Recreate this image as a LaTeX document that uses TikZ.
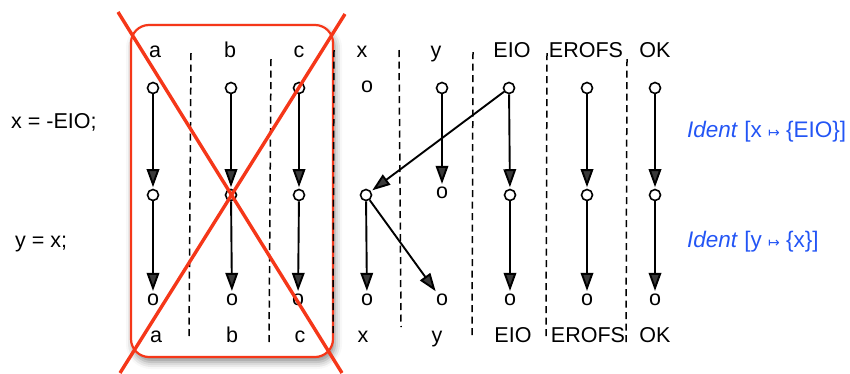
\documentclass[tikz,border=0pt]{standalone}
\usepackage{fontspec}
\setmainfont{Liberation Sans}
\newfontfamily\symfont{DejaVu Sans}
\usetikzlibrary{arrows.meta,shadows.blur}
\definecolor{crossred}{RGB}{245,55,25}
\definecolor{identblue}{RGB}{35,85,245}
\newcommand{\mapsarrow}{{\symfont\fontsize{14}{14}\selectfont ↦}}
\begin{document}
\begin{tikzpicture}[x=1pt,y=-1pt,
  font=\fontsize{21.5}{25}\selectfont,
  loc/.style={circle,draw,line width=1.6pt,inner sep=0pt,minimum size=11pt,fill=white},
  otext/.style={inner sep=1.5pt},
  lbl/.style={anchor=base,inner sep=0pt},
  stmt/.style={anchor=base west,inner sep=0pt},
  ident/.style={anchor=base west,inner sep=0pt,text=identblue,font=\fontsize{22.5}{26}\selectfont},
  flow/.style={-{Triangle[length=18pt,width=12.5pt]},line width=1.9pt,shorten >=1.5pt},
  sep/.style={line width=1.5pt,dash pattern=on 7pt off 4.5pt},
  cross/.style={crossred,line width=3.4pt}]
\useasboundingbox (0,0) rectangle (850,373);

% discarded columns
\draw[crossred,line width=2.2pt,fill=white,rounded corners=18pt,
  blur shadow={shadow xshift=2pt,shadow yshift=-5pt,shadow blur radius=7pt,shadow opacity=45}]
  (131,25) rectangle (333,357);

% column separators
\draw[sep] (191,53) -- (189,339);
\draw[sep] (271,59) -- (269,345);
\draw[sep] (334,50) -- (333,337);
\draw[sep] (399,50) -- (401,327);
\draw[sep] (473,52) -- (472,338);
\draw[sep] (547,53) -- (546,340);
\draw[sep] (627,59) -- (626,345);

% column headings, top and bottom
\foreach \n/\t/\x in {a/a/155,b/b/230,c/c/299,x/x/362,y/y/436,eio/EIO/512,erofs/EROFS/586,ok/OK/655}{
  \node[lbl] (top-\n) at (\x,57) {\t};
}
\foreach \n/\t/\x in {a/a/156,b/b/232,c/c/300,x/x/363,y/y/437,eio/EIO/513,erofs/EROFS/588,ok/OK/655}{
  \node[lbl] (bot-\n) at (\x,342) {\t};
}

% statements and their effects
\node[stmt] (s1) at (11,128) {x = -EIO;};
\node[stmt] (s2) at (15,247) {y = x;};
\node[ident] (e1) at (687,137) {\textit{Ident} [x \mapsarrow{} \{EIO\}]};
\node[ident] (e2) at (687,247) {\textit{Ident} [y \mapsarrow{} \{x\}]};

% row 1
\node[loc] (a1) at (153,88) {};
\node[loc] (b1) at (231,88) {};
\node[loc] (c1) at (299,88) {};
\node[otext] (x1) at (367,87) {o};
\node[loc] (y1) at (442,88) {};
\node[loc] (eio1) at (509,88) {};
\node[loc] (erofs1) at (587,88) {};
\node[loc] (ok1) at (655,88) {};

% row 2
\node[loc] (a2) at (153,195) {};
\node[loc] (b2) at (231,195) {};
\node[loc] (c2) at (299,195) {};
\node[loc] (x2) at (366,195) {};
\node[otext] (y2) at (442,193) {o};
\node[loc] (eio2) at (510,195) {};
\node[loc] (erofs2) at (587,195) {};
\node[loc] (ok2) at (655,195) {};

% row 3
\node[otext] (a3) at (153,300) {o};
\node[otext] (b3) at (232,300) {o};
\node[otext] (c3) at (298,300) {o};
\node[otext] (x3) at (367,300) {o};
\node[otext] (y3) at (442,300) {o};
\node[otext] (eio3) at (510,300) {o};
\node[otext] (erofs3) at (587,300) {o};
\node[otext] (ok3) at (655,300) {o};

% edges from row 1 to row 2
\draw[flow] (a1) -- (a2);
\draw[flow] (b1) -- (b2);
\draw[flow] (c1) -- (c2);
\draw[flow] (y1) -- (y2);
\draw[flow] (eio1) -- (eio2);
\draw[flow] (eio1) -- (x2);
\draw[flow] (erofs1) -- (erofs2);
\draw[flow] (ok1) -- (ok2);

% edges from row 2 to row 3
\draw[flow] (a2) -- (a3);
\draw[flow] (b2) -- (b3);
\draw[flow] (c2) -- (c3);
\draw[flow] (x2) -- (x3);
\draw[flow] (x2) -- (y3);
\draw[flow] (eio2) -- (eio3);
\draw[flow] (erofs2) -- (erofs3);
\draw[flow] (ok2) -- (ok3);

% crossing out
\draw[cross] (118,12) -- (342,373);
\draw[cross] (345,14) -- (120,373);
\end{tikzpicture}
\end{document}
